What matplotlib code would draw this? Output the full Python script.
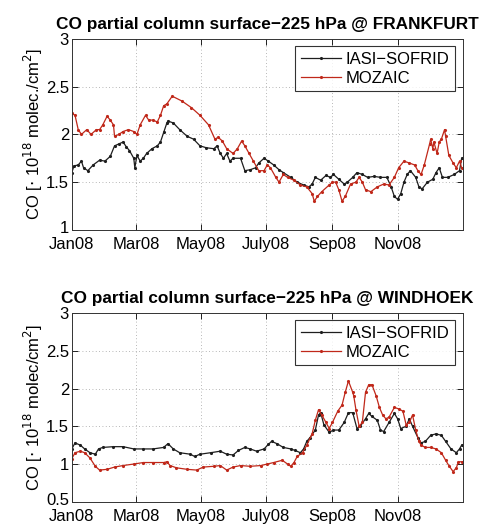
import numpy as np
import matplotlib
matplotlib.use("Agg")
import matplotlib.pyplot as plt
from matplotlib.transforms import ScaledTranslation

plt.rcParams['font.family'] = ['Liberation Sans', 'DejaVu Sans']

# day of year 2008 and CO partial column (1e18 molec/cm2)
fra_iasi_day = [0, 2, 6, 9, 11, 15, 20, 26, 31, 36, 40, 44, 48, 51, 54, 58, 59, 61, 64, 67,
                70, 75, 80, 83, 86, 89, 90, 95, 101, 108, 114, 120, 126, 133, 136, 139, 142,
                145, 148, 151, 158, 162, 167, 172, 175, 180, 184, 189, 194, 198, 205, 211,
                217, 222, 225, 228, 233, 238, 242, 245, 250, 255, 258, 263, 267, 272, 277,
                283, 289, 295, 299, 302, 305, 308, 311, 314, 317, 322, 325, 328, 333, 338,
                341, 344, 347, 352, 358, 363, 365]
fra_iasi = [1.60, 1.67, 1.68, 1.72, 1.65, 1.62, 1.68, 1.73, 1.72, 1.77, 1.88, 1.90, 1.92,
            1.87, 1.83, 1.75, 1.65, 1.78, 1.72, 1.75, 1.80, 1.85, 1.88, 1.92, 2.02, 2.12,
            2.14, 2.12, 2.05, 1.98, 1.95, 1.88, 1.86, 1.85, 1.88, 1.80, 1.75, 1.80, 1.72,
            1.75, 1.75, 1.62, 1.63, 1.65, 1.70, 1.75, 1.72, 1.68, 1.63, 1.60, 1.55, 1.50,
            1.47, 1.45, 1.48, 1.55, 1.52, 1.57, 1.55, 1.58, 1.53, 1.48, 1.50, 1.55, 1.60,
            1.58, 1.55, 1.56, 1.55, 1.55, 1.45, 1.35, 1.32, 1.38, 1.50, 1.58, 1.62, 1.55,
            1.45, 1.43, 1.50, 1.53, 1.60, 1.65, 1.55, 1.55, 1.58, 1.62, 1.75]

fra_moz_day = [0, 3, 6, 9, 14, 18, 23, 26, 29, 33, 36, 39, 40, 44, 48, 53, 58, 61, 64, 69,
               72, 76, 80, 83, 86, 89, 94, 103, 112, 120, 128, 134, 137, 141, 145, 151, 155,
               159, 162, 166, 170, 175, 180, 183, 186, 191, 194, 198, 202, 208, 214, 220,
               225, 227, 230, 234, 241, 244, 247, 250, 253, 256, 261, 266, 269, 272, 275,
               280, 286, 292, 297, 302, 306, 311, 316, 321, 324, 327, 330, 335, 336, 338,
               339, 342, 344, 346, 349, 350, 353, 357, 360, 363, 365]
fra_moz = [2.22, 2.20, 2.05, 2.00, 2.05, 2.00, 2.05, 2.05, 2.10, 2.19, 2.15, 2.10, 1.98,
           2.00, 2.03, 2.05, 2.03, 2.00, 2.10, 2.20, 2.15, 2.15, 2.13, 2.20, 2.30, 2.32,
           2.40, 2.35, 2.28, 2.20, 2.10, 1.95, 1.97, 1.93, 1.85, 1.80, 1.85, 1.93, 1.88,
           1.80, 1.72, 1.62, 1.62, 1.68, 1.65, 1.55, 1.50, 1.58, 1.55, 1.52, 1.47, 1.45,
           1.38, 1.30, 1.35, 1.40, 1.47, 1.50, 1.50, 1.42, 1.30, 1.35, 1.48, 1.50, 1.55,
           1.50, 1.42, 1.40, 1.45, 1.48, 1.47, 1.55, 1.65, 1.72, 1.70, 1.68, 1.62, 1.58,
           1.68, 1.90, 1.95, 1.85, 1.92, 1.80, 1.92, 1.95, 2.05, 1.98, 1.78, 1.70, 1.65,
           1.72, 1.65]

win_iasi_day = [0, 3, 8, 12, 17, 22, 25, 29, 39, 48, 58, 67, 76, 86, 90, 95, 101, 111, 115,
                120, 130, 139, 145, 151, 156, 162, 167, 173, 180, 184, 187, 192, 198, 205,
                209, 214, 217, 220, 223, 228, 231, 233, 236, 241, 245, 250, 255, 259, 263,
                267, 270, 275, 278, 281, 286, 289, 292, 297, 302, 305, 308, 313, 316, 319,
                324, 327, 331, 336, 341, 346, 350, 355, 360, 363, 365]
win_iasi = [1.20, 1.28, 1.25, 1.20, 1.15, 1.13, 1.20, 1.22, 1.23, 1.23, 1.20, 1.20, 1.20,
            1.22, 1.27, 1.20, 1.15, 1.13, 1.10, 1.13, 1.15, 1.17, 1.13, 1.12, 1.18, 1.22,
            1.20, 1.17, 1.20, 1.26, 1.30, 1.27, 1.22, 1.20, 1.18, 1.15, 1.20, 1.30, 1.35,
            1.45, 1.65, 1.68, 1.52, 1.42, 1.45, 1.45, 1.55, 1.68, 1.68, 1.47, 1.50, 1.60,
            1.67, 1.63, 1.58, 1.45, 1.43, 1.55, 1.67, 1.60, 1.47, 1.50, 1.60, 1.50, 1.35,
            1.28, 1.30, 1.38, 1.40, 1.38, 1.30, 1.20, 1.15, 1.20, 1.25]

win_moz_day = [0, 3, 8, 12, 17, 22, 26, 33, 40, 48, 58, 67, 76, 86, 89, 92, 98, 108, 117,
               123, 133, 139, 145, 151, 158, 167, 177, 183, 189, 197, 202, 205, 208, 211,
               216, 220, 225, 228, 231, 234, 238, 241, 244, 249, 253, 256, 259, 263, 264,
               266, 269, 272, 275, 278, 281, 285, 288, 291, 294, 297, 302, 306, 310, 313,
               316, 319, 322, 325, 327, 331, 336, 341, 346, 350, 353, 357, 360, 362, 365]
win_moz = [1.07, 1.15, 1.17, 1.15, 1.08, 0.97, 0.92, 0.93, 0.96, 0.98, 1.00, 1.02, 1.02,
           1.02, 1.03, 0.98, 0.95, 0.93, 0.92, 0.96, 0.97, 0.98, 0.92, 0.96, 0.98, 0.97,
           0.98, 1.00, 1.02, 1.05, 1.00, 0.97, 1.02, 1.10, 1.15, 1.25, 1.40, 1.58, 1.72,
           1.65, 1.55, 1.47, 1.55, 1.70, 1.78, 1.95, 2.10, 1.95, 1.90, 1.72, 1.50, 1.55,
           1.95, 2.05, 2.05, 1.90, 1.75, 1.65, 1.60, 1.62, 1.75, 1.73, 1.70, 1.52, 1.55,
           1.65, 1.45, 1.30, 1.25, 1.22, 1.22, 1.20, 1.15, 1.05, 0.98, 0.90, 0.95, 1.03,
           1.03]

month_ticks = ['2008-01-01', '2008-03-01', '2008-05-01', '2008-07-01', '2008-09-01', '2008-11-01']
month_labels = ['Jan08', 'Mar08', 'May08', 'July08', 'Sep08', 'Nov08']
series_names = ['IASI\u2212SOFRID', 'MOZAIC']

panels = [
    dict(title='CO partial column surface\u2212225 hPa @ FRANKFURT',
         ylabel=r'CO [$\cdot$ 10$^{18}$ molec./cm$^2$]',
         yticks=[1, 1.5, 2, 2.5, 3], ylabels=['1', '1.5', '2', '2.5', '3'],
         data=[(fra_iasi_day, fra_iasi), (fra_moz_day, fra_moz)],
         rect=[0.149, 0.563, 0.811, 0.363]),
    dict(title='CO partial column surface\u2212225 hPa @ WINDHOEK',
         ylabel=r'CO [$\cdot$ 10$^{18}$ molec/cm$^2$]',
         yticks=[0.5, 1, 1.5, 2, 2.5, 3], ylabels=['0.5', '1', '1.5', '2', '2.5', '3'],
         data=[(win_iasi_day, win_iasi), (win_moz_day, win_moz)],
         rect=[0.149, 0.046, 0.811, 0.359]),
]
colors = ['#1e1e1e', '#c0281a']

fig = plt.figure(figsize=(4.82, 5.26), dpi=100)
t0 = np.datetime64('2008-01-01')
for p in panels:
    ax = fig.add_axes(p['rect'])
    for (d, v), c, name in zip(p['data'], colors, series_names):
        ax.plot(t0 + np.array(d).astype('timedelta64[D]'), v, color=c, lw=0.9,
                marker='.', ms=2.5, label=name)
    ax.set_xlim(t0, np.datetime64('2009-01-01'))
    ax.set_ylim(p['yticks'][0], p['yticks'][-1])
    ax.set_xticks([np.datetime64(m) for m in month_ticks])
    ax.set_xticklabels(month_labels)
    ax.set_yticks(p['yticks'])
    ax.set_yticklabels(p['ylabels'])
    ax.tick_params(direction='in', length=4, width=0.6, top=True, right=True,
                   labelsize=12, pad=2)
    ax.tick_params(axis='x', pad=5)
    # lift the lowest y label a touch so it clears the first date label
    lowest = ax.get_yticklabels()[0]
    lowest.set_transform(lowest.get_transform() +
                         ScaledTranslation(0, 2 / 72, fig.dpi_scale_trans))
    ax.grid(True, ls=(0, (1, 3)), color='#a0a0a0', lw=0.6)
    for s in ax.spines.values():
        s.set_linewidth(0.7)
        s.set_color('#333333')
    ax.set_ylabel(p['ylabel'], fontsize=12, labelpad=1)
    ax.set_title(p['title'], fontsize=12.4, fontweight='bold', pad=7)
    leg = ax.legend(loc='upper right', fontsize=12, handlelength=2.4, borderpad=0.35,
                    labelspacing=0.2, handletextpad=0.3, fancybox=False,
                    borderaxespad=0.45)
    leg.get_frame().set_edgecolor('black')
    leg.get_frame().set_linewidth(0.8)

fig.savefig('out.png', dpi=100)
